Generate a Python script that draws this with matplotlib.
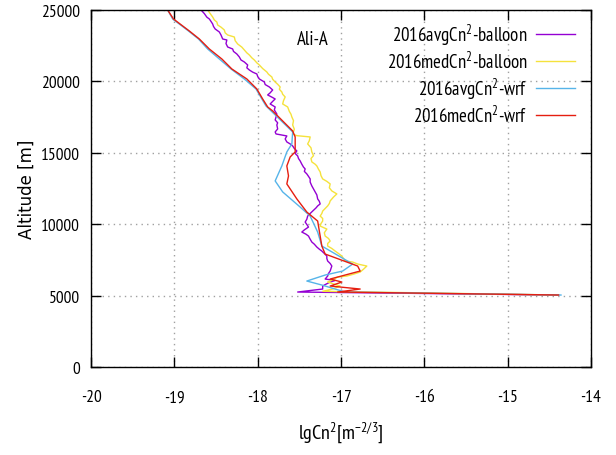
import matplotlib
matplotlib.use("Agg")
import matplotlib.pyplot as plt

NARROW = "PT Sans Narrow"
plt.rcParams["font.family"] = [NARROW, "DejaVu Sans"]
plt.rcParams["mathtext.fontset"] = "custom"
plt.rcParams["mathtext.rm"] = NARROW
plt.rcParams["mathtext.it"] = NARROW
plt.rcParams["mathtext.bf"] = NARROW

# ---------------- data ----------------
avg_balloon_alt = [25000, 24750, 24500, 24370, 24200, 24020, 23850, 23670, 23460, 23250,
                   22970, 22900, 22650, 22410, 22270, 22100, 21920, 21710, 21500, 21360,
                   21150, 20950, 20800, 20650, 20520, 20350, 20170, 19960, 19780, 19610,
                   19400, 19200, 19050, 18900, 18770, 18600, 18420, 18210, 18000, 17720,
                   17500, 17300, 17100, 16950, 16670, 16460, 16320, 16180, 15970, 15760,
                   15620, 15480, 15300, 15130, 14950, 14780, 14600, 14430, 14200, 14000,
                   13870, 13700, 13520, 13350, 13170, 12950, 12680, 12470, 12260, 12050,
                   11770, 11600, 11420, 11280, 11140, 10920, 10750, 10570, 10350, 10150,
                   9980, 9800, 9600, 9450, 9300, 9170, 8950, 8750, 8600, 8400,
                   8250, 8120, 7950, 7770, 7600, 7420, 7250, 7070, 6900, 6720,
                   6550, 6370, 6160, 6060, 5950, 5800, 5670, 5460, 5250, 5040]
avg_balloon_cn2 = [-18.68, -18.64, -18.61, -18.58, -18.56, -18.54, -18.53, -18.51, -18.46, -18.44,
                   -18.42, -18.37, -18.38, -18.36, -18.30, -18.29, -18.25, -18.22, -18.20, -18.16,
                   -18.12, -18.13, -18.10, -18.06, -18.01, -18.00, -17.98, -17.92, -17.91, -17.86,
                   -17.82, -17.85, -17.88, -17.83, -17.79, -17.82, -17.85, -17.79, -17.80, -17.77,
                   -17.78, -17.79, -17.76, -17.77, -17.76, -17.79, -17.78, -17.65, -17.67, -17.65,
                   -17.61, -17.58, -17.56, -17.53, -17.55, -17.52, -17.51, -17.49, -17.47, -17.45,
                   -17.43, -17.44, -17.41, -17.39, -17.37, -17.37, -17.35, -17.33, -17.31, -17.29,
                   -17.28, -17.26, -17.25, -17.28, -17.30, -17.34, -17.37, -17.40, -17.41, -17.43,
                   -17.41, -17.39, -17.44, -17.47, -17.42, -17.39, -17.37, -17.35, -17.32, -17.29,
                   -17.26, -17.23, -17.20, -17.17, -17.17, -17.16, -17.13, -17.11, -17.12, -17.13,
                   -17.15, -17.16, -17.19, -17.07, -17.13, -17.18, -17.22, -17.22, -17.52, -14.39]

med_balloon_alt = [25000, 24750, 24510, 24300, 24160, 23950, 23800, 23600, 23400, 23250,
                   23110, 22850, 22620, 22400, 22200, 22000, 21850, 21650, 21500, 21300,
                   21150, 20900, 20660, 20500, 20310, 20150, 19960, 19800, 19610, 19450,
                   19260, 19100, 18910, 18650, 18420, 18210, 17900, 17700, 17510, 17250,
                   16950, 16650, 16320, 16200, 16110, 15850, 15620, 15350, 15060, 14800,
                   14600, 14360, 14200, 14080, 13850, 13660, 13400, 13170, 13000, 12820,
                   12550, 12330, 12120, 11900, 11630, 11450, 11280, 11100, 10920, 10750,
                   10570, 10400, 10220, 10050, 9870, 9660, 9400, 9170, 9000, 8820,
                   8650, 8470, 8300, 8120, 7950, 7770, 7600, 7420, 7350, 7210,
                   7070, 6850, 6650, 6500, 6370, 6300, 6100, 5950, 5800, 5670,
                   5460, 5300, 5040]
med_balloon_cn2 = [-18.60, -18.57, -18.54, -18.52, -18.49, -18.48, -18.44, -18.40, -18.39, -18.36,
                   -18.28, -18.27, -18.24, -18.19, -18.16, -18.13, -18.10, -18.07, -18.04, -18.01,
                   -17.98, -17.94, -17.89, -17.87, -17.83, -17.82, -17.79, -17.76, -17.73, -17.74,
                   -17.71, -17.70, -17.67, -17.69, -17.70, -17.64, -17.62, -17.60, -17.59, -17.57,
                   -17.58, -17.56, -17.58, -17.53, -17.37, -17.38, -17.40, -17.36, -17.35, -17.33,
                   -17.36, -17.35, -17.31, -17.29, -17.27, -17.25, -17.24, -17.22, -17.17, -17.13,
                   -17.14, -17.11, -17.05, -17.09, -17.13, -17.14, -17.16, -17.19, -17.22, -17.23,
                   -17.25, -17.22, -17.22, -17.24, -17.25, -17.17, -17.20, -17.19, -17.15, -17.13,
                   -17.16, -17.16, -17.11, -17.07, -17.03, -16.99, -16.97, -16.95, -16.86, -16.80,
                   -16.69, -16.73, -16.77, -16.85, -16.93, -17.04, -17.10, -17.16, -17.08, -17.01,
                   -17.10, -17.22, -14.39]

avg_wrf_alt = [25000, 24370, 23530, 22970, 22270, 21570, 20870, 20170, 19470, 18770,
               18280, 16460, 15620, 15060, 14080, 13030, 12260, 11200, 10570, 9450,
               8470, 7210, 6720, 6440, 6020, 5740, 5460, 5250, 5040]
avg_wrf_cn2 = [-19.08, -19.02, -18.83, -18.71, -18.60, -18.46, -18.32, -18.16, -18.02, -17.95,
               -17.90, -17.58, -17.59, -17.65, -17.71, -17.79, -17.70, -17.49, -17.37, -17.28,
               -17.23, -16.86, -16.98, -17.19, -17.41, -17.23, -17.07, -16.95, -14.36]

med_wrf_alt = [25000, 24370, 23530, 22970, 22270, 21570, 20870, 20170, 19470, 18770,
               18210, 17930, 17230, 16530, 16110, 15060, 14710, 14080, 13380, 12820,
               11770, 10850, 10220, 8470, 7910, 7070, 6720, 6160, 5950, 5670,
               5600, 5460, 5250, 5040]
med_wrf_cn2 = [-19.08, -19.01, -18.82, -18.70, -18.58, -18.43, -18.31, -18.13, -18.01, -17.94,
               -17.88, -17.82, -17.70, -17.58, -17.55, -17.55, -17.61, -17.65, -17.63, -17.65,
               -17.53, -17.41, -17.28, -17.23, -17.19, -16.80, -16.77, -17.13, -16.99, -17.13,
               -17.01, -16.77, -17.04, -14.39]

labels = [r"2016avgCn$^{2}$-balloon", r"2016medCn$^{2}$-balloon",
          r"2016avgCn$^{2}$-wrf", r"2016medCn$^{2}$-wrf"]
colors = ["#9400d3", "#f5e23c", "#56b4e9", "#e51e10"]

x_ticks = [-20, -19, -18, -17, -16, -15, -14]
y_ticks = [0, 5000, 10000, 15000, 20000, 25000]

# ---------------- figure ----------------
fig = plt.figure(figsize=(6.16, 4.56), dpi=100)
ax = fig.add_axes([91 / 616, 1 - 368 / 456, 500 / 616, 357 / 456])

series = [(avg_balloon_cn2, avg_balloon_alt), (med_balloon_cn2, med_balloon_alt),
          (avg_wrf_cn2, avg_wrf_alt), (med_wrf_cn2, med_wrf_alt)]
for (xv, yv), lab, col in zip(series, labels, colors):
    ax.plot(xv, yv, color=col, lw=1.0, label=lab)

ax.set_xlim(-20, -14)
ax.set_ylim(0, 25000)
ax.set_xticks(x_ticks)
ax.set_yticks(y_ticks)
ax.set_xticklabels([str(t) for t in x_ticks])
ax.set_yticklabels([str(t) for t in y_ticks])
ax.tick_params(direction="in", length=7, width=1, labelsize=12.5,
               top=True, right=True)
ax.tick_params(axis="x", pad=16)
ax.tick_params(axis="y", pad=8)
ax.set_axisbelow(True)
ax.grid(True, color="#a0a0a0", lw=1.0, linestyle=(0, (1, 3)))
for s in ax.spines.values():
    s.set_linewidth(1.0)

ax.set_xlabel(r"lgCn$^{2}$[m$^{-2/3}$]", fontsize=14.5, labelpad=10)
ax.set_ylabel("Altitude [m]", fontsize=12, family="DejaVu Sans", labelpad=4)

ax.text(-17.34, 22970, "Ali-A", fontsize=13.5, ha="center", va="center")

leg = ax.legend(loc="upper right", bbox_to_anchor=(0.968, 0.968), frameon=False,
                markerfirst=False, fontsize=13.5, handlelength=2.1,
                handletextpad=0.45, labelspacing=0.2, borderaxespad=0,
                borderpad=0)

fig.savefig("out.png", dpi=100)
